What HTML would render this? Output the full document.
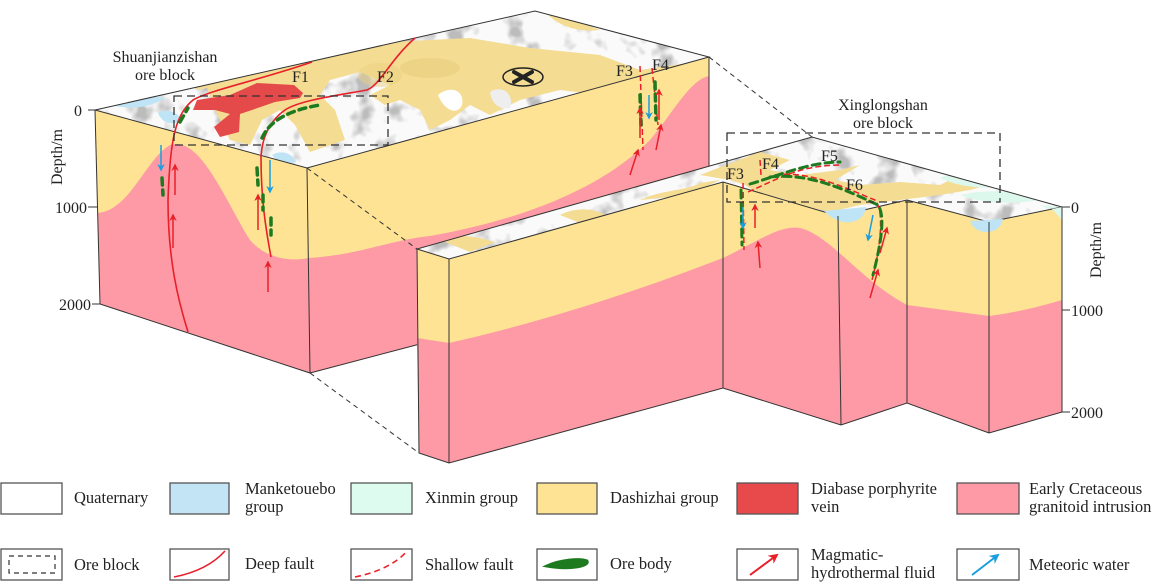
<!DOCTYPE html>
<html><head><meta charset="utf-8">
<style>
html,body{margin:0;padding:0;background:#fff;}
svg{display:block;}
text{font-family:"Liberation Serif",serif;fill:#222;}
</style></head><body>
<svg width="1153" height="583" viewBox="0 0 1153 583" xmlns="http://www.w3.org/2000/svg">
<defs>
  <filter id="mottle" x="0" y="0" width="100%" height="100%">
    <feTurbulence type="fractalNoise" baseFrequency="0.04" numOctaves="3" seed="4" result="n"/>
    <feColorMatrix in="n" type="matrix" values="0 0 0 0 0.5  0 0 0 0 0.5  0 0 0 0 0.5  0 0 0 -4.5 2.1" />
  </filter>
  <clipPath id="topL"><polygon points="95,110 535,11 709,57 307,168"/></clipPath>
  <clipPath id="topR"><polygon points="417,249 449,259 723,182 838,216 907,200 989,222 1062,207 812,137"/></clipPath>
  <marker id="ar" viewBox="0 0 10 10" refX="8" refY="5" markerWidth="5" markerHeight="5" orient="auto"><path d="M0,0 L10,5 L0,10 L3,5z" fill="#e8202a"/></marker>
  <marker id="ab" viewBox="0 0 10 10" refX="8" refY="5" markerWidth="5" markerHeight="5" orient="auto"><path d="M0,0 L10,5 L0,10 L3,5z" fill="#1a9ee0"/></marker>
</defs>

<!-- LEFT BLOCK -->
<polygon points="95,110 307,168 310,373 100,304" fill="#fde393"/>
<path d="M98,213 C130,210 145,160 170,145 C200,135 225,200 250,240 C265,258 290,262 308,258 L310,373 L100,304 Z" fill="#fd9aa5"/>
<polygon points="307,168 709,57 709,268 310,373" fill="#fde393"/>
<path d="M308,258 C360,255 390,240 430,236 C520,220 600,190 650,140 C675,110 690,80 709,76 L709,268 L310,373 Z" fill="#fd9aa5"/>
<polygon points="95,110 535,11 709,57 307,168" fill="#fafafa"/>
<g clip-path="url(#topL)">
  <rect x="90" y="5" width="625" height="170" fill="#fff" filter="url(#mottle)"/>
  <path d="M205,82 L300,60 L390,42 L470,38 L530,48 L600,55 L640,70 L709,60 L709,80 L650,85 L600,95 L560,90 L520,100 L490,115 L470,105 L450,120 L430,130 L420,110 L400,100 L385,105 L370,95 L390,85 L360,72 L330,80 L320,95 L335,110 L345,140 L310,152 L295,125 L280,110 L262,120 L250,145 L230,140 L215,110 Z" fill="#f4dc92"/>
  <path d="M545,12 C560,18 580,22 600,30 C580,32 560,28 545,12Z" fill="#f4dc92"/>
  <path d="M170,80 L230,70 L215,85 L200,90 Z" fill="#f4dc92"/>
  <ellipse cx="380" cy="75" rx="22" ry="12" fill="#e9d07f" opacity="0.5"/>
  <ellipse cx="430" cy="68" rx="30" ry="10" fill="#e3c676" opacity="0.4"/>
  <path d="M438,95 C450,85 465,90 462,105 C458,115 445,112 438,95Z" fill="#fff"/>
  <path d="M490,92 C500,85 515,92 510,108 C500,110 492,105 490,92Z" fill="#eee"/>
  <path d="M110,105 C130,95 150,95 165,98 C150,108 130,110 110,105Z" fill="#bfe4f5"/>
  <path d="M158,113 C165,108 180,112 180,120 C175,126 162,124 158,113Z" fill="#bfe4f5"/>
  <path d="M272,155 C280,150 292,152 296,162 L280,164 Z" fill="#bfe4f5"/>
  <polygon points="193,110 197,100 230,95 257,83 294,85 303,93 300,98 275,102 252,110 240,114 239,132 220,137 214,127 230,114 215,110" fill="#e54a4a"/>
  <ellipse cx="523" cy="77" rx="20" ry="9" fill="none" stroke="#222" stroke-width="1.5"/>
  <path d="M514,72 L532,82 M532,72 L514,82" stroke="#222" stroke-width="4" stroke-linecap="round"/>
</g>
<polygon points="95,110 535,11 709,57 307,168" fill="none" stroke="#333" stroke-width="1"/>
<path d="M95,110 L100,304 L310,373 L307,168 M310,373 L420,344 M709,57 L709,180" fill="none" stroke="#333" stroke-width="1"/>
<path d="M88,110 L95,110 M88,207 L97,207 M92,304 L100,304" stroke="#333" stroke-width="1"/>
<text x="82" y="116" font-size="16" text-anchor="end">0</text>
<text x="87" y="213" font-size="16" text-anchor="end">1000</text>
<text x="91" y="310" font-size="16" text-anchor="end">2000</text>
<text transform="translate(62,157) rotate(-90)" font-size="16" text-anchor="middle">Depth/m</text>

<path d="M312,62 C260,80 210,90 193,100 C175,115 170,140 168,200 C168,260 178,300 188,332" fill="none" stroke="#e8202a" stroke-width="1.6"/>
<path d="M415,38 C390,60 380,85 367,90 C340,95 300,100 285,110 C268,122 262,140 261,157 C261,200 266,230 271,257" fill="none" stroke="#e8202a" stroke-width="1.6"/>
<path d="M640,66 L643,150 M652,68 L658,125" fill="none" stroke="#e8202a" stroke-width="1.5" stroke-dasharray="6,3"/>
<g stroke="#1e7a1e" stroke-width="3.5" stroke-linecap="round" fill="none" stroke-dasharray="7,5">
  <path d="M180,122 L188,108"/>
  <path d="M262,138 C270,120 290,110 320,105"/>
  <path d="M162,178 L163,195"/>
  <path d="M257,168 L258,185 M263,195 L263,210 M271,218 L271,235"/>
  <path d="M640,95 L641,125 M655,82 L656,120"/>
</g>
<g stroke="#e8202a" stroke-width="1.5" fill="none" marker-end="url(#ar)">
  <path d="M175,195 L175,165"/><path d="M173,248 L173,215"/><path d="M268,292 L268,262"/>
  <path d="M258,230 L258,195"/><path d="M640,138 L640,108"/><path d="M659,120 L659,90"/>
  <path d="M630,175 L638,150"/><path d="M656,150 L661,125"/>
</g>
<g stroke="#1a9ee0" stroke-width="1.5" fill="none" marker-end="url(#ab)">
  <path d="M161,145 L161,170"/><path d="M270,160 L270,192"/><path d="M649,95 L649,118"/>
</g>

<path d="M307,168 L417,249 M310,373 L419,453 M709,57 L812,137" stroke="#333" stroke-width="1" stroke-dasharray="5,4" fill="none"/>

<!-- RIGHT BLOCK -->
<polygon points="417,249 449,259 723,182 838,216 907,200 989,222 1062,207 1062,412 989,433 907,403 841,425 723,388 449,463 419,453" fill="#fde393"/>
<path d="M417,338 L449,343 C550,320 640,290 723,258 C760,240 780,225 800,228 C830,235 860,280 907,305 L989,316 C1020,312 1045,305 1062,300 L1062,412 L989,433 L907,403 L841,425 L723,388 L449,463 L419,453 Z" fill="#fd9aa5"/>
<polygon points="417,249 449,259 723,182 838,216 907,200 989,222 1062,207 812,137" fill="#fafafa"/>
<g clip-path="url(#topR)">
  <rect x="410" y="130" width="660" height="140" fill="#fff" filter="url(#mottle)"/>
  <path d="M440,240 C460,232 480,238 495,242 L470,252 Z" fill="#f4dc92"/>
  <path d="M560,215 C580,205 600,210 610,218 L585,225 Z" fill="#f4dc92"/>
  <path d="M640,200 C660,190 690,190 700,183 L720,180 L690,195 Z" fill="#f4dc92"/>
  <path d="M700,175 L760,152 L790,160 L770,170 L800,175 L840,170 L860,165 L835,180 L860,185 L900,182 L940,185 L960,175 L990,172 L1000,182 L970,190 L940,195 L900,200 L860,205 L830,212 L800,205 L780,198 L760,195 L745,185 L730,180 Z" fill="#f4dc92"/>
  <path d="M940,178 C960,170 990,175 1010,185 C990,190 960,188 940,178Z" fill="#dcf8ec"/>
  <path d="M960,195 C990,188 1020,192 1040,200 C1010,205 980,203 960,195Z" fill="#dcf8ec"/>
  <path d="M1040,205 L1062,207 L1062,215 Z" fill="#dcf8ec"/>
</g>
<polygon points="417,249 449,259 723,182 838,216 907,200 989,222 1062,207 812,137" fill="none" stroke="#333" stroke-width="1"/>
<path d="M824,211 L866,207 C864,225 840,228 824,211Z" fill="#bfe4f5"/>
<path d="M970,221 L1003,219 C1000,236 975,236 970,221Z" fill="#bfe4f5"/>
<path d="M1052,209 L1062,207 L1062,220 Z" fill="#dcf8ec"/>
<path d="M449,259 L449,463 M417,249 L419,453 L449,463 L723,388 L841,425 L907,403 L989,433 L1062,412 L1062,207 M723,182 L723,388 M838,216 L841,425 M907,200 L907,403 M989,222 L989,433" fill="none" stroke="#333" stroke-width="1"/>
<path d="M1062,207 L1070,207 M1062,310 L1070,310 M1062,412 L1070,412" stroke="#333" stroke-width="1"/>
<text x="1071" y="213" font-size="16">0</text>
<text x="1071" y="316" font-size="16">1000</text>
<text x="1071" y="418" font-size="16">2000</text>
<text transform="translate(1101,250) rotate(-90)" font-size="16" text-anchor="middle">Depth/m</text>

<path d="M743,183 L744,250 M760,160 L761,175 M748,192 C780,178 800,165 842,165 M775,175 C810,170 850,190 875,200 C885,210 880,250 872,280" fill="none" stroke="#e8202a" stroke-width="1.5" stroke-dasharray="6,3"/>
<g stroke="#1e7a1e" stroke-width="3" stroke-linecap="round" fill="none" stroke-dasharray="8,5">
  <path d="M750,184 C780,175 810,162 840,162"/>
  <path d="M770,177 C810,172 850,192 878,205 C885,215 882,240 873,275"/>
  <path d="M741,190 L742,245"/>
</g>
<g stroke="#e8202a" stroke-width="1.5" fill="none" marker-end="url(#ar)">
  <path d="M755,228 L755,205"/><path d="M760,268 L758,242"/><path d="M880,253 L887,228"/><path d="M870,298 L878,270"/>
</g>
<g stroke="#1a9ee0" stroke-width="1.5" fill="none" marker-end="url(#ab)">
  <path d="M743,207 L743,228"/><path d="M873,215 L868,240"/>
</g>

<rect x="174" y="96" width="214" height="49" fill="none" stroke="#333" stroke-width="1.3" stroke-dasharray="8,5"/>
<rect x="727" y="133" width="273" height="69" fill="none" stroke="#333" stroke-width="1.3" stroke-dasharray="8,5"/>

<g font-size="16">
<text x="165" y="62" text-anchor="middle">Shuanjianzishan</text>
<text x="165" y="80" text-anchor="middle">ore block</text>
<text x="883" y="110" text-anchor="middle">Xinglongshan</text>
<text x="883" y="128" text-anchor="middle">ore block</text>
<text x="292" y="82">F1</text>
<text x="377" y="82">F2</text>
<text x="616" y="76">F3</text>
<text x="652" y="70">F4</text>
<text x="727" y="179">F3</text>
<text x="762" y="169">F4</text>
<text x="821" y="161">F5</text>
<text x="846" y="190">F6</text>
</g>

<!-- LEGEND -->
<g stroke="#555" stroke-width="1.3">
  <rect x="1" y="483" width="61" height="31" fill="#fff"/>
  <rect x="170" y="483" width="59" height="31" fill="#c3e4f5"/>
  <rect x="351" y="483" width="61" height="31" fill="#ddfbee"/>
  <rect x="537" y="483" width="60" height="31" fill="#fde393"/>
  <rect x="737" y="483" width="61" height="31" fill="#e84a4c"/>
  <rect x="957" y="483" width="62" height="31" fill="#fd9aa5"/>
  <rect x="1" y="549" width="61" height="31" fill="#fff"/>
  <rect x="170" y="549" width="59" height="31" fill="#fff"/>
  <rect x="351" y="549" width="61" height="31" fill="#fff"/>
  <rect x="537" y="549" width="60" height="31" fill="#fff"/>
  <rect x="737" y="549" width="61" height="31" fill="#fff"/>
  <rect x="957" y="549" width="62" height="31" fill="#fff"/>
</g>
<rect x="9" y="556" width="46" height="17" fill="none" stroke="#333" stroke-width="1.2" stroke-dasharray="5,4"/>
<path d="M174,577 C200,572 215,562 225,551" fill="none" stroke="#e8202a" stroke-width="1.6"/>
<path d="M355,577 C380,572 398,562 407,551" fill="none" stroke="#e8202a" stroke-width="1.6" stroke-dasharray="6,4"/>
<path d="M547,566 C560,560 580,558 587,561 C590,566 570,570 547,566Z" fill="#1e7a1e" stroke="#1e7a1e" stroke-width="3"/>
<path d="M750,575 L777,555" stroke="#e8202a" stroke-width="2" marker-end="url(#ar)"/>
<path d="M972,575 L998,555" stroke="#1a9ee0" stroke-width="2" marker-end="url(#ab)"/>
<g font-size="16.5">
  <text x="74" y="503">Quaternary</text>
  <text x="245" y="494">Manketouebo</text><text x="245" y="512">group</text>
  <text x="425" y="503">Xinmin group</text>
  <text x="610" y="503">Dashizhai group</text>
  <text x="811" y="494">Diabase porphyrite</text><text x="811" y="512">vein</text>
  <text x="1029" y="494">Early Cretaceous</text><text x="1029" y="512">granitoid intrusion</text>
  <text x="74" y="570">Ore block</text>
  <text x="245" y="569">Deep fault</text>
  <text x="425" y="570">Shallow fault</text>
  <text x="610" y="569">Ore body</text>
  <text x="811" y="560">Magmatic-</text><text x="811" y="578">hydrothermal fluid</text>
  <text x="1029" y="570">Meteoric water</text>
</g>
</svg>
</body></html>
